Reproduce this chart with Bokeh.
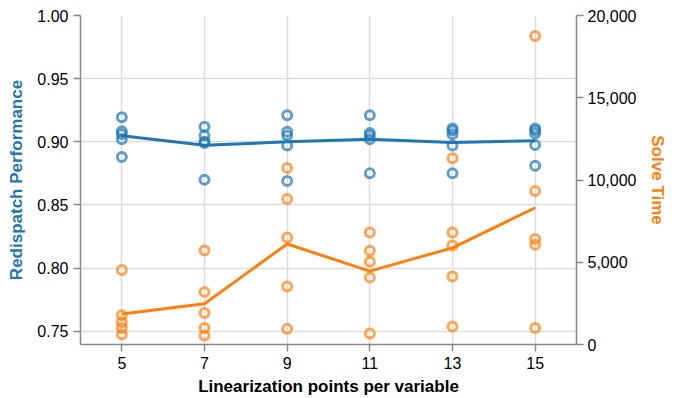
import numpy as np
from bokeh.plotting import figure
from bokeh.models import Range1d, LinearAxis, FixedTicker, NumeralTickFormatter
from bokeh.embed import file_html
from bokeh.resources import INLINE

# ---- data ----
lin_points = [5, 7, 9, 11, 13, 15]
performance = [
    [0.9195, 0.9084, 0.906, 0.902, 0.888],
    [0.912, 0.905, 0.900, 0.899, 0.870],
    [0.921, 0.908, 0.905, 0.897, 0.869],
    [0.921, 0.907, 0.905, 0.902, 0.875],
    [0.9105, 0.909, 0.906, 0.897, 0.875],
    [0.9105, 0.909, 0.9065, 0.8975, 0.881],
]
solve_time = [
    [4530, 1780, 1350, 1010, 610],
    [5720, 3190, 1920, 1010, 550],
    [10730, 8850, 6500, 3530, 950],
    [6810, 5700, 5030, 4080, 670],
    [11320, 6810, 6020, 4140, 1090],
    [18750, 9330, 6410, 6060, 1010],
]
perf_ticks = [0.75, 0.80, 0.85, 0.90, 0.95, 1.00]
time_ticks = [0, 5000, 10000, 15000, 20000]

BLUE = "#1f77b4"
ORANGE = "#ff7f0e"
FONT = "Liberation Sans"

perf_x = [x for x, vals in zip(lin_points, performance) for _ in vals]
perf_y = [v for vals in performance for v in vals]
time_x = [x for x, vals in zip(lin_points, solve_time) for _ in vals]
time_y = [v for vals in solve_time for v in vals]
perf_mean = [float(np.mean(v)) for v in performance]
time_mean = [float(np.mean(v)) for v in solve_time]

p = figure(width=675, height=398,
           x_range=Range1d(4, 16), y_range=Range1d(0.7395, 1.0),
           output_backend="svg", toolbar_location=None,
           min_border_left=80, min_border_right=99,
           min_border_top=15, min_border_bottom=53)
p.outline_line_color = None
p.background_fill_color = "white"
p.border_fill_color = "white"

p.extra_y_ranges = {"time": Range1d(0, 20000)}

def style_axis(ax):
    ax.axis_line_color = "#888888"
    ax.axis_line_width = 1.5
    ax.major_tick_line_color = "#888888"
    ax.major_tick_line_width = 1.5
    ax.major_tick_out = 7
    ax.major_tick_in = 0
    ax.minor_tick_line_color = None
    ax.major_label_text_font = FONT
    ax.major_label_text_font_size = "16px"
    ax.major_label_text_color = "black"
    ax.axis_label_text_font = FONT
    ax.axis_label_text_font_size = "17px"
    ax.axis_label_text_font_style = "bold"
    ax.major_label_standoff = 5

xa = p.xaxis[0]
xa.ticker = FixedTicker(ticks=lin_points)
xa.axis_label = "Linearization points per variable"
style_axis(xa)
xa.major_label_text_line_height = 1.0
xa.axis_label_text_line_height = 1.0
xa.major_label_standoff = 5
xa.axis_label_standoff = 5
xa.axis_label_text_color = "black"

ya = p.yaxis[0]
ya.ticker = FixedTicker(ticks=perf_ticks)
ya.formatter = NumeralTickFormatter(format="0.00")
ya.axis_label = "Redispatch Performance"
style_axis(ya)
ya.axis_label_standoff = 8
ya.axis_label_text_color = BLUE

ra = LinearAxis(y_range_name="time", ticker=FixedTicker(ticks=time_ticks),
                formatter=NumeralTickFormatter(format="0,0"),
                axis_label="Solve Time")
style_axis(ra)
ra.major_label_standoff = 4
ra.axis_label_standoff = 9
ra.axis_label_text_color = ORANGE
p.add_layout(ra, "right")

p.xgrid.ticker = FixedTicker(ticks=lin_points)
p.ygrid.ticker = FixedTicker(ticks=perf_ticks)
for g in (p.xgrid[0], p.ygrid[0]):
    g.grid_line_color = "#dddddd"
    g.grid_line_width = 1.5

p.scatter(perf_x, perf_y, size=9, fill_color=None, line_color=BLUE,
          line_width=3, line_alpha=0.7)
p.line(lin_points, perf_mean, line_color=BLUE, line_width=3)

p.scatter(time_x, time_y, size=9, fill_color=None, line_color=ORANGE,
          line_width=3, line_alpha=0.7, y_range_name="time")
p.line(lin_points, time_mean, line_color=ORANGE, line_width=3,
       y_range_name="time")

open("out.html", "w").write(file_html(p, INLINE))
